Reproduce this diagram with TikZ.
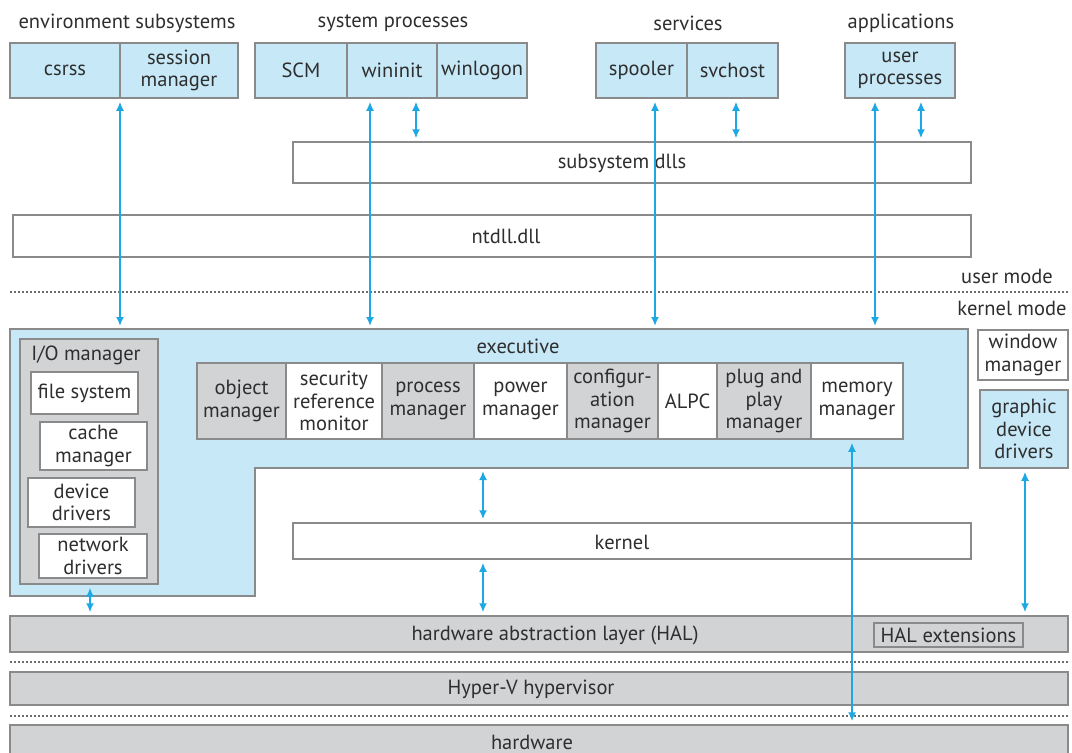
\documentclass[tikz,border=0pt]{standalone}
\usepackage{fontspec}
\setmainfont{PT Sans}
\usetikzlibrary{arrows.meta,fit}
\definecolor{lblue}{HTML}{C6E8F7}
\definecolor{lgray}{HTML}{D2D3D5}
\definecolor{bord}{HTML}{8A8A8A}
\definecolor{txt}{HTML}{2E2E2E}
\definecolor{cyanA}{HTML}{1BA8E4}
\tikzset{
  every node/.style={text=txt,font=\fontsize{20.5}{22.5}\selectfont},
  bx/.style={draw=bord,line width=1.5pt,inner sep=0pt,align=center},
  bbox/.style={bx,fill=lblue},
  gbox/.style={bx,fill=lgray},
  wbox/.style={bx,fill=white},
  arr/.style={draw=cyanA,line width=2pt,{Latex[length=9pt,width=8pt]}-{Latex[length=9pt,width=8pt]},shorten <=3pt,shorten >=3pt},
  dotline/.style={draw=bord!80!black,line width=1.6pt,dash pattern=on 1.6pt off 2.4pt},
  lab/.style={inner sep=0pt}
}
\begin{document}
\begin{tikzpicture}[x=1pt,y=-1pt]
\useasboundingbox[fill=white] (0,0) rectangle (1072,753);
% titles
\node[lab] (tEnv) at (127,23) {environment subsystems};
\node[lab] (tSys) at (393,23) {system processes};
\node[lab] (tSvc) at (688,23) {services};
\node[lab] (tApp) at (901,23) {applications};
% user mode boxes
\node[bbox,fit={(10,43) (120,98)}] (csrss) {};
\node[lab] at (csrss.center) {csrss};
\node[bbox,fit={(120,43) (238,98)}] (sess) {};
\node[lab,align=center] at (sess.center) {session\\manager};
\node[bbox,fit={(255,43) (347,98)}] (scm) {};
\node[lab] at (scm.center) {SCM};
\node[bbox,fit={(347,43) (437,98)}] (wininit) {};
\node[lab] at (wininit.center) {wininit};
\node[bbox,fit={(437,43) (527,98)}] (winlogon) {};
\node[lab] at (winlogon.center) {winlogon};
\node[bbox,fit={(596,43) (687,98)}] (spooler) {};
\node[lab] at (spooler.center) {spooler};
\node[bbox,fit={(687,43) (778,98)}] (svchost) {};
\node[lab] at (svchost.center) {svchost};
\node[bbox,fit={(845,43) (955,98)}] (userproc) {};
\node[lab,align=center] at (userproc.center) {user\\processes};
\node[wbox,fit={(293,142) (971,183)}] (subsys) {};
\node[lab] (subsysT) at (622,163) {subsystem dlls};
\node[wbox,fit={(13,215) (971,257)}] (ntdll) {};
\node[lab] (ntdllT) at (506,236) {ntdll.dll};
% mode line
\draw[dotline] (10,292) -- (1070,292);
\node[lab] (um) at (1007,276) {user mode};
\node[lab] (km) at (1012,308) {kernel mode};
% executive
\coordinate (execNW) at (10,329);
\coordinate (execS) at (500,468);
\draw[draw=bord,line width=1.5pt,fill=lblue] (10,329) -- (968,329) -- (968,468) -- (255,468) -- (255,596) -- (10,596) -- cycle;
\node[lab] (execT) at (518,346) {executive};
\node[gbox,fit={(20,339) (158,584)}] (io) {};
\node[lab] (ioT) at (86,355) {I/O manager};
\node[wbox,fit={(31,372) (138,414)}] (fs) {};
\node[lab] at (fs.center) {file system};
\node[wbox,fit={(40,422) (147,470)}] (cache) {};
\node[lab,align=center] at (cache.center) {cache\\manager};
\node[wbox,fit={(28,478) (135,527)}] (dev) {};
\node[lab,align=center] at (dev.center) {device\\drivers};
\node[wbox,fit={(39,534) (147,578)}] (net) {};
\node[lab,align=center] at (net.center) {network\\drivers};
% executive row
\node[gbox,fit={(197,363) (286,439)}] (obj) {};
\node[lab,align=center] at (obj.center) {object\\manager};
\node[wbox,fit={(286,363) (382,439)}] (sec) {};
\node[lab,align=center] at (sec.center) {security\\reference\\monitor};
\node[gbox,fit={(382,363) (474,439)}] (proc) {};
\node[lab,align=center] at (proc.center) {process\\manager};
\node[wbox,fit={(474,363) (567,439)}] (pow) {};
\node[lab,align=center] at (pow.center) {power\\manager};
\node[gbox,fit={(567,363) (658,439)}] (conf) {};
\node[lab,align=center] at (conf.center) {configur-\\ation\\manager};
\node[wbox,fit={(658,363) (717,439)}] (alpc) {};
\node[lab] at (alpc.center) {ALPC};
\node[gbox,fit={(717,363) (811,439)}] (pnp) {};
\node[lab,align=center] at (pnp.center) {plug and\\play\\manager};
\node[wbox,fit={(811,363) (903,439)}] (mem) {};
\node[lab,align=center] at (mem.center) {memory\\manager};
% right side
\node[wbox,fit={(978,330) (1068,380)}] (win) {};
\node[lab,align=center] at (win.center) {window\\manager};
\node[bbox,fit={(980,390) (1068,468)}] (gdd) {};
\node[lab,align=center] at (gdd.center) {graphic\\device\\drivers};
% kernel
\node[wbox,fit={(293,523) (971,559)}] (kernel) {};
\node[lab] (kernelT) at (622,542) {kernel};
% HAL etc
\node[gbox,fit={(10,616) (1068,652)}] (hal) {};
\node[lab] (halT) at (555,635) {hardware abstraction layer (HAL)};
\node[gbox,fit={(874,623) (1023,647)}] (halext) {};
\node[lab] at (halext.center) {HAL extensions};
\draw[dotline] (10,662) -- (1070,662);
\node[gbox,fit={(10,672) (1068,705)}] (hyperv) {};
\node[lab] (hypT) at (531,689) {Hyper-V hypervisor};
\draw[dotline] (10,716) -- (1070,716);
\node[gbox,fit={(10,725) (1068,775)}] (hw) {};
\node[lab] (hwT) at (532,742) {hardware};
% arrow x positions
\coordinate (x120) at (120,0);
\coordinate (x370) at (370,0);
\coordinate (x416) at (416,0);
\coordinate (x655) at (655,0);
\coordinate (x736) at (736,0);
\coordinate (x875) at (875,0);
\coordinate (x921) at (921,0);
\coordinate (x483) at (483,0);
\coordinate (x90) at (90,0);
\coordinate (x852) at (852,0);
\coordinate (x1025) at (1025,0);
% arrows
\draw[arr] (x120 |- sess.south) -- (x120 |- execNW);
\draw[arr] (x370 |- wininit.south) -- (x370 |- execNW);
\draw[arr] (x416 |- wininit.south) -- (x416 |- subsys.north);
\draw[arr] (x655 |- spooler.south) -- (x655 |- execNW);
\draw[arr] (x736 |- svchost.south) -- (x736 |- subsys.north);
\draw[arr] (x875 |- userproc.south) -- (x875 |- execNW);
\draw[arr] (x921 |- userproc.south) -- (x921 |- subsys.north);
\draw[arr] (x483 |- execS) -- (x483 |- kernel.north);
\draw[arr] (x483 |- kernel.south) -- (x483 |- hal.north);
\draw[arr] (x90 |- io.south) -- (x90 |- hal.north);
\draw[arr] (x852 |- mem.south) -- (x852 |- hw.north);
\draw[arr] (x1025 |- gdd.south) -- (x1025 |- hal.north);
\end{tikzpicture}
\end{document}
